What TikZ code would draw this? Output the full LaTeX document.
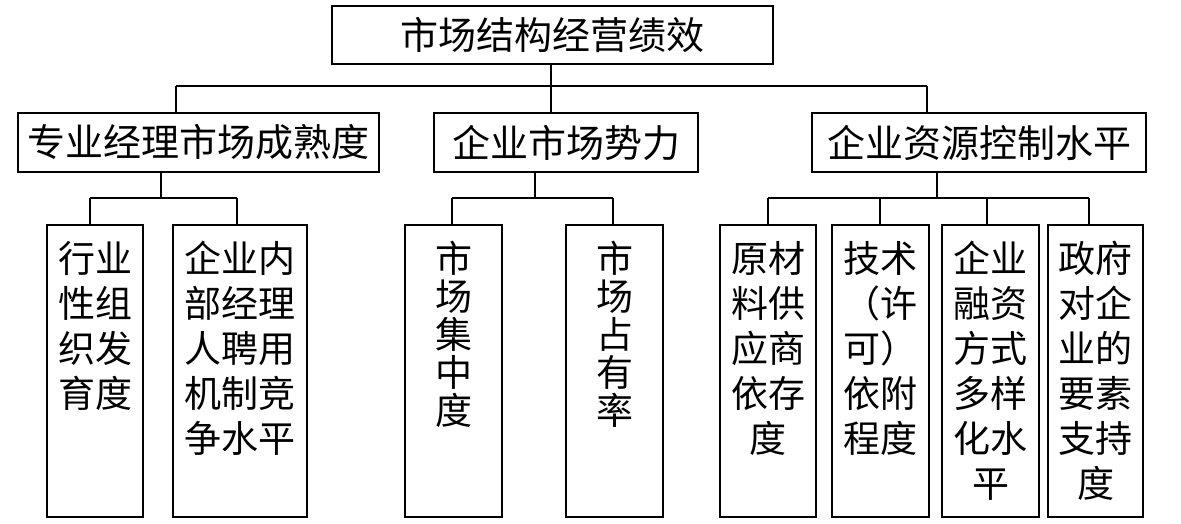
\documentclass[tikz,border=0pt]{standalone}
\usepackage{fontspec}
\setmainfont{Noto Sans CJK SC}
\newcommand{\leaftext}[4]{\parbox[c][#2][t]{#1}{\centering\fontsize{37}{#3}\selectfont\vspace*{16pt}#4\par}}
\begin{document}
\begin{tikzpicture}[x=1pt,y=-1pt]
\tikzset{
  box/.style={draw, line width=2.4pt, inner sep=0pt, font=\fontsize{38}{44}\selectfont},
  conn/.style={line width=2pt},
}
\useasboundingbox (0,0) rectangle (1181,524);
% top
\node[box, minimum width=441pt, minimum height=58pt] (top) at (552.5,35) {市场结构经营绩效};
% row 2
\node[box, minimum width=361pt, minimum height=59pt] (l) at (198.5,142.5) {专业经理市场成熟度};
\node[box, minimum width=264pt, minimum height=59pt] (m) at (566,142.5) {企业市场势力};
\node[box, minimum width=334pt, minimum height=59pt] (r) at (979,142.5) {企业资源控制水平};
% row 3
\node[box] (a1) at (95,371) {\leaftext{96pt}{292pt}{45pt}{行业\\性组\\织发\\育度}};
\node[box] (a2) at (240,371) {\leaftext{134pt}{292pt}{45pt}{企业内\\部经理\\人聘用\\机制竞\\争水平}};
\node[box] (m1) at (453.5,371) {\leaftext{97pt}{292pt}{38pt}{市\\场\\集\\中\\度}};
\node[box] (m2) at (614.5,371) {\leaftext{97pt}{292pt}{38pt}{市\\场\\占\\有\\率}};
\node[box] (r1) at (768,371) {\leaftext{96pt}{292pt}{45pt}{原材\\料供\\应商\\依存\\度}};
\node[box] (r2) at (880.5,371) {\leaftext{97pt}{292pt}{45pt}{技术\\（许\\可）\\依附\\程度}};
\node[box] (r3) at (990.5,371) {\leaftext{97pt}{292pt}{45pt}{企业\\融资\\方式\\多样\\化水\\平}};
\node[box] (r4) at (1095.5,371) {\leaftext{95pt}{292pt}{45pt}{政府\\对企\\业的\\要素\\支持\\度}};
% level 1 connectors
\coordinate (b1L) at (176,86);
\coordinate (b1M) at (551,86);
\coordinate (b1R) at (927,86);
\draw[conn] (b1M |- top.south) -- (b1M |- m.north);
\draw[conn] (b1L) -- (b1R);
\draw[conn] (b1L) -- (b1L |- l.north);
\draw[conn] (b1R) -- (b1R |- r.north);
% level 2 left
\coordinate (sL) at (161,198);
\coordinate (dA1) at (90,198);
\coordinate (dA2) at (237,198);
\draw[conn] (sL |- l.south) -- (sL);
\draw[conn] (dA1) -- (dA2);
\draw[conn] (dA1) -- (dA1 |- a1.north);
\draw[conn] (dA2) -- (dA2 |- a2.north);
% level 2 middle
\coordinate (sM) at (535,198);
\coordinate (dM1) at (452,198);
\coordinate (dM2) at (613,198);
\draw[conn] (sM |- m.south) -- (sM);
\draw[conn] (dM1) -- (dM2);
\draw[conn] (dM1) -- (dM1 |- m1.north);
\draw[conn] (dM2) -- (dM2 |- m2.north);
% level 2 right
\coordinate (sR) at (937,198);
\coordinate (dR1) at (768,198);
\coordinate (dR2) at (880,198);
\coordinate (dR3) at (987,198);
\coordinate (dR4) at (1089,198);
\draw[conn] (sR |- r.south) -- (sR);
\draw[conn] (dR1) -- (dR4);
\draw[conn] (dR1) -- (dR1 |- r1.north);
\draw[conn] (dR2) -- (dR2 |- r2.north);
\draw[conn] (dR3) -- (dR3 |- r3.north);
\draw[conn] (dR4) -- (dR4 |- r4.north);
\end{tikzpicture}
\end{document}
